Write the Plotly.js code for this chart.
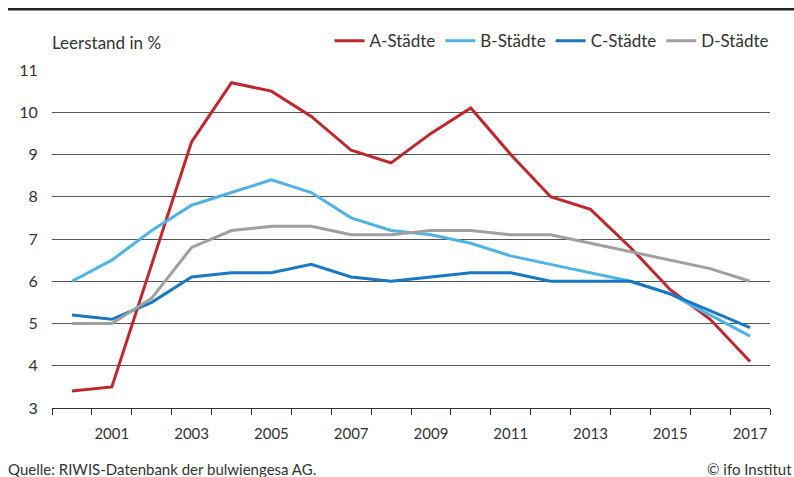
<!DOCTYPE html>
<html>
<head>
<meta charset="utf-8">
<script src="https://cdn.plot.ly/plotly-3.0.1.min.js"></script>
<style>
html,body{margin:0;padding:0;background:#fff;}
#chart{width:794px;height:477px;}
</style>
</head>
<body>
<div id="chart"></div>
<script>
const years = [2000,2001,2002,2003,2004,2005,2006,2007,2008,2009,2010,2011,2012,2013,2014,2015,2016,2017];
const aStaedte = [3.4,3.5,6.4,9.3,10.7,10.5,9.9,9.1,8.8,9.5,10.1,9.0,8.0,7.7,6.8,5.8,5.1,4.1];
const bStaedte = [6.0,6.5,7.2,7.8,8.1,8.4,8.1,7.5,7.2,7.1,6.9,6.6,6.4,6.2,6.0,5.7,5.2,4.7];
const cStaedte = [5.2,5.1,5.5,6.1,6.2,6.2,6.4,6.1,6.0,6.1,6.2,6.2,6.0,6.0,6.0,5.7,5.3,4.9];
const dStaedte = [5.0,5.0,5.6,6.8,7.2,7.3,7.3,7.1,7.1,7.2,7.2,7.1,7.1,6.9,6.7,6.5,6.3,6.0];
const seriesNames = ["A-Städte","B-Städte","C-Städte","D-Städte"];
const seriesColors = ["#c0272d","#4fb3e6","#1a78c2","#a0a0a0"];
const xTickLabels = ["2001","2003","2005","2007","2009","2011","2013","2015","2017"];
const xTickVals = xTickLabels.map(Number);
const boundaryTicks = years.map(y => y - 0.5).concat([years[years.length-1] + 0.5]);

const FONT = "Lato, 'Noto Sans', sans-serif";
const allSeries = [aStaedte,bStaedte,cStaedte,dStaedte];
const traces = allSeries.map((vals,i) => ({
  type: 'scatter', mode: 'lines', x: years, y: vals, name: seriesNames[i],
  line: {color: seriesColors[i], width: 3}, hoverinfo: 'skip'
}));

const layout = {
  width: 794, height: 477,
  margin: {l: 52, r: 24, t: 70, b: 69},
  paper_bgcolor: '#fff', plot_bgcolor: '#fff',
  font: {family: FONT, size: 15, color: '#333'},
  showlegend: true,
  legend: {orientation: 'h', x: 1.005, xanchor: 'right', y: 1.085, yanchor: 'middle',
    font: {family: FONT, size: 17, color: '#333'}, itemwidth: 30, tracegroupgap: 0,
    bgcolor: 'rgba(0,0,0,0)'},
  xaxis: {
    range: [1999.5, 2017.5], tickvals: xTickVals, ticktext: xTickLabels,
    ticks: '', showgrid: false, zeroline: false,
    showline: true, linecolor: '#333', linewidth: 1,
    tickfont: {family: FONT, size: 15, color: '#333'},
    ticklabelstandoff: 12,
    minor: {tickvals: boundaryTicks, ticks: 'outside', ticklen: 6, tickcolor: '#333', tickwidth: 1, showgrid: false}
  },
  yaxis: {
    range: [3, 11], dtick: 1, tick0: 3, showgrid: true, gridcolor: '#555', gridwidth: 1,
    zeroline: false, showline: false, ticks: 'outside', ticklen: 10, tickcolor: 'rgba(0,0,0,0)',
    tickfont: {family: FONT, size: 16, color: '#333'}
  },
  shapes: [
    {type: 'line', xref: 'paper', yref: 'paper', x0: -0.0613, x1: 1.0334, y0: 1.18, y1: 1.18,
     line: {color: '#222', width: 2.5}}
  ],
  annotations: [
    {text: 'Leerstand in %', xref: 'paper', yref: 'paper', x: -0.003, y: 1.08, xanchor: 'left', yanchor: 'middle',
     showarrow: false, font: {family: FONT, size: 17, color: '#333'}},
    {text: 'Quelle: RIWIS-Datenbank der bulwiengesa AG.', xref: 'paper', yref: 'paper', x: -0.064, y: -0.18,
     xanchor: 'left', yanchor: 'middle', showarrow: false, font: {family: FONT, size: 15, color: '#333'}},
    {text: '© ifo Institut', xref: 'paper', yref: 'paper', x: 1.0334, y: -0.18,
     xanchor: 'right', yanchor: 'middle', showarrow: false, font: {family: FONT, size: 15, color: '#333'}}
  ]
};

Plotly.newPlot('chart', traces, layout, {displayModeBar: false, staticPlot: true});
</script>
</body>
</html>
